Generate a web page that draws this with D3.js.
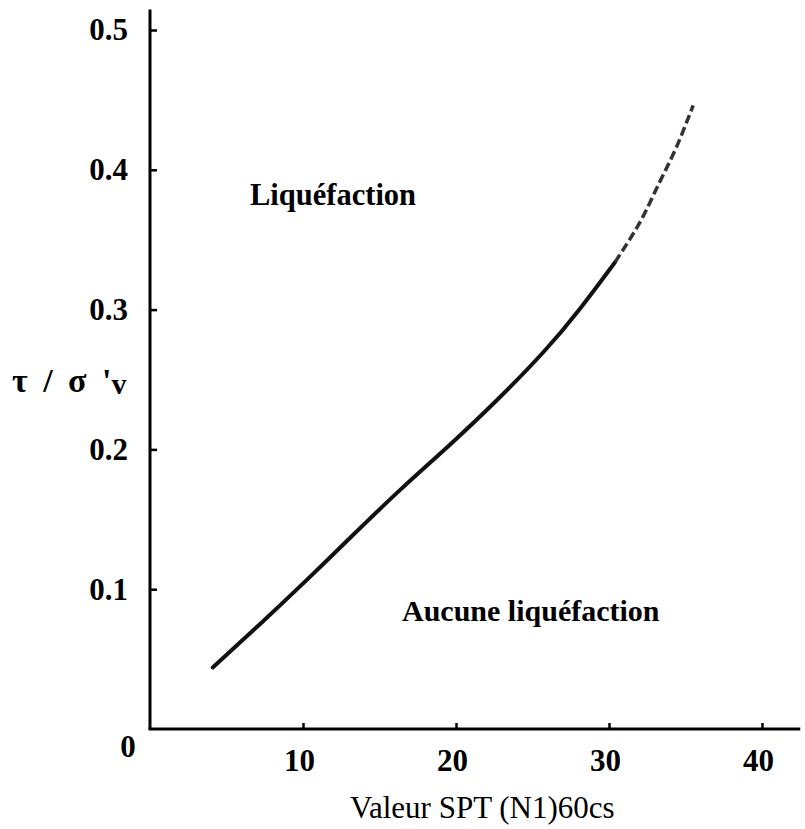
<!DOCTYPE html>
<html><head><meta charset="utf-8">
<script src="https://cdn.jsdelivr.net/npm/d3@7"></script>
<style>body{margin:0;background:#fff}svg{display:block}</style>
</head><body>
<script>
// Data
const solidN = [4.1, 7.2, 10.3, 13.1, 16.3, 19.6, 22.7, 25.9, 28.1, 30.4];
const solidR = [0.044, 0.075, 0.107, 0.137, 0.171, 0.203, 0.235, 0.271, 0.300, 0.334];
const dashN = [30.4, 32.0, 33.3, 34.4, 35.5];
const dashR = [0.334, 0.362, 0.391, 0.416, 0.446];
const xTicks = [10, 20, 30, 40];
const yTicks = [0.1, 0.2, 0.3, 0.4, 0.5];
const yTickLabels = ["0.1", "0.2", "0.3", "0.4", "0.5"];
const xTitle = "Valeur SPT (N1)60cs";
const regionTop = "Liquéfaction";
const regionBottom = "Aucune liquéfaction";

const W = 805, H = 829;
const svg = d3.select("body").append("svg").attr("width", W).attr("height", H);
const x = d3.scaleLinear().domain([0, 40]).range([150, 762]);
const y = d3.scaleLinear().domain([0, 0.5]).range([729, 30]);
const serif = "'Liberation Serif','Times New Roman',serif";

// axes lines
svg.append("line").attr("x1", x(0)).attr("x2", x(0)).attr("y1", y(0.5147)).attr("y2", y(0))
  .attr("stroke", "#000").attr("stroke-width", 3);
svg.append("line").attr("x1", x(0) - 1.5).attr("x2", x(42.5)).attr("y1", y(0)).attr("y2", y(0))
  .attr("stroke", "#000").attr("stroke-width", 3);

// x axis ticks
const gx = svg.append("g").attr("transform", `translate(0,${y(0)})`)
  .call(d3.axisBottom(x).tickValues(xTicks).tickSizeInner(-6).tickSizeOuter(0).tickFormat(d3.format("d")).tickPadding(16));
gx.select(".domain").remove();
gx.selectAll(".tick line").attr("stroke", "#000").attr("stroke-width", 2.5);
gx.selectAll(".tick text").attr("font-family", serif).attr("font-weight", "bold")
  .attr("font-size", 31).attr("fill", "#000").attr("dx", -4).attr("dy", "0.85em");

// y axis ticks
const gy = svg.append("g").attr("transform", `translate(${x(0)},0)`)
  .call(d3.axisLeft(y).tickValues(yTicks).tickSizeInner(-7).tickSizeOuter(0)
    .tickFormat((d, i) => yTickLabels[i]).tickPadding(22));
gy.select(".domain").remove();
gy.selectAll(".tick line").attr("stroke", "#000").attr("stroke-width", 2.5);
gy.selectAll(".tick text").attr("font-family", serif).attr("font-weight", "bold")
  .attr("font-size", 31).attr("fill", "#000");

// origin label
svg.append("text").attr("x", 128).attr("y", 757).attr("text-anchor", "middle")
  .attr("font-family", serif).attr("font-weight", "bold").attr("font-size", 31).text("0");

// curve
const lgSolid = d3.line().x(d => x(d[0])).y(d => y(d[1])).curve(d3.curveBasis);
const lgDash = d3.line().x(d => x(d[0])).y(d => y(d[1])).curve(d3.curveCatmullRom.alpha(0.5));
svg.append("path").datum(solidN.map((n, i) => [n, solidR[i]]))
  .attr("d", lgSolid).attr("fill", "none").attr("stroke", "#111").attr("stroke-width", 4).attr("stroke-linecap", "round");
svg.append("path").datum(dashN.map((n, i) => [n, dashR[i]]))
  .attr("d", lgDash).attr("fill", "none").attr("stroke", "#333").attr("stroke-width", 3.5)
  .attr("stroke-dasharray", "9,4");

// region labels
svg.append("text").attr("x", 250).attr("y", 205).attr("font-family", serif).attr("font-weight", "bold")
  .attr("font-size", 30.5).text(regionTop);
svg.append("text").attr("x", 402).attr("y", 621).attr("font-family", serif).attr("font-weight", "bold")
  .attr("font-size", 30).text(regionBottom);

// axis titles
svg.append("text").attr("x", 350).attr("y", 818).attr("font-family", serif)
  .attr("font-size", 31).text(xTitle);
const yl = svg.append("text").attr("x", 12).attr("y", 392).attr("font-family", serif)
  .attr("font-weight", "bold").attr("font-size", 34).attr("word-spacing", 7);
yl.append("tspan").text("τ / σ '");
yl.append("tspan").attr("dy", 2).attr("font-size", 30).text("v");
</script>
</body></html>
